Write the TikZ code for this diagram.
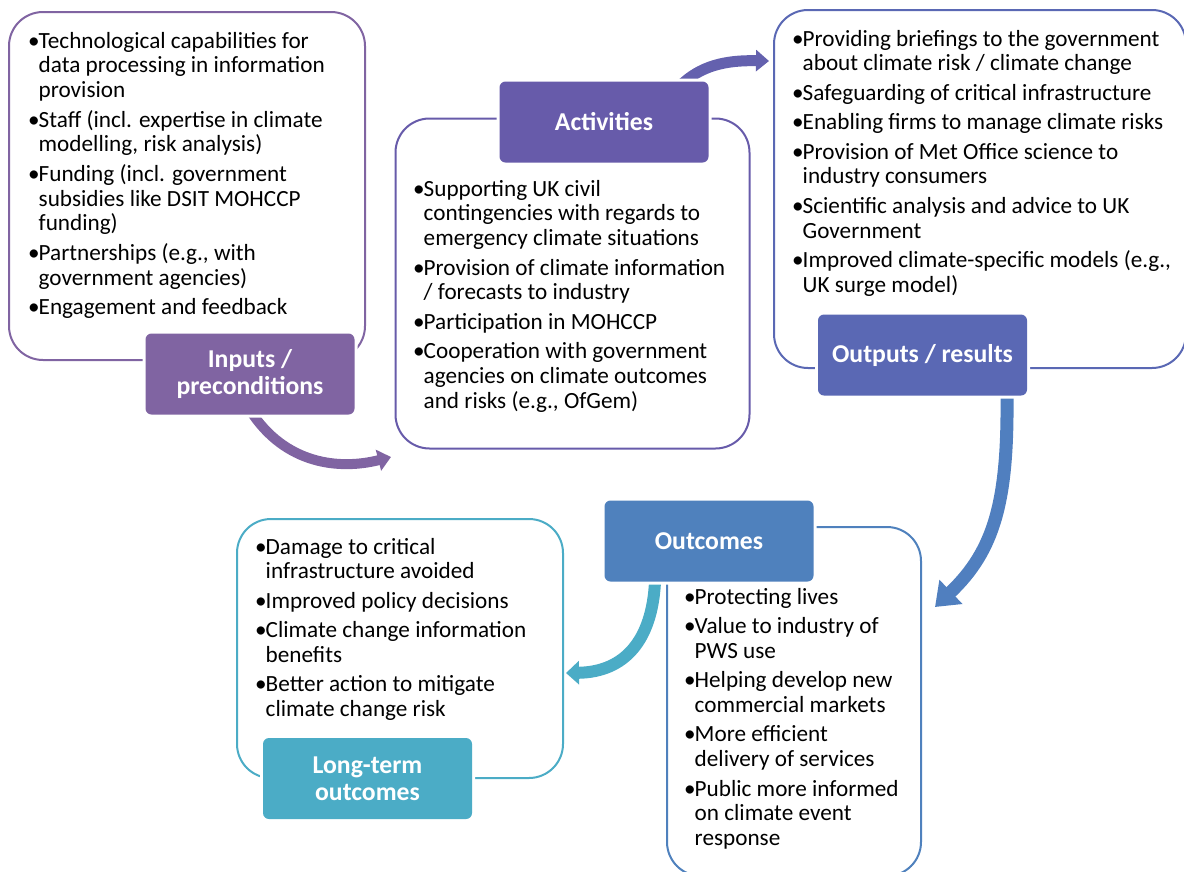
\documentclass[tikz,border=0pt]{standalone}
\usepackage{fontspec}
\setmainfont{Carlito}
\usetikzlibrary{arrows.meta}

\definecolor{cIn}{HTML}{8064A2}
\definecolor{cAct}{HTML}{675BAA}
\definecolor{cOut}{HTML}{5A68B4}
\definecolor{cOc}{HTML}{4F81BD}
\definecolor{cLt}{HTML}{4BACC6}
\definecolor{cArrAct}{HTML}{6461AE}
\definecolor{cArrOut}{HTML}{507FBF}

% bullet with hanging indent, and the indent of a continuation line
\newcommand\lbul{\strut\makebox[10.5pt][l]{•}}
\newcommand\lcont{\strut\hspace*{10.5pt}}

\tikzset{
  panel/.style={draw=#1, line width=2pt, fill=white, rounded corners=34pt, inner sep=0pt},
  head/.style={fill=#1, preaction={draw=white, line width=6pt}, rounded corners=6pt,
    minimum width=209pt, minimum height=81pt, inner sep=0pt, text=white, align=center,
    font=\fontsize{25.7}{27.5}\selectfont\bfseries},
  list/.style={anchor=north west, inner sep=0pt, align=left,
    font=\fontsize{23.2}{24.8}\selectfont},
  flow/.style={draw=#1, line width=11pt},
}

\begin{document}
\begin{tikzpicture}[x=1pt, y=-1pt]
\useasboundingbox (0,0) rectangle (1184,871);
\clip (0,0) rectangle (1184,871);

% rounded panels
\node[panel=cIn,  minimum width=356pt, minimum height=348pt] (inpanel)  at (187,186) {};
\node[panel=cAct, minimum width=354pt, minimum height=330pt] (actpanel) at (572.5,283.5) {};
\node[panel=cOut, minimum width=412pt, minimum height=358pt] (outpanel) at (980,189) {};
\node[panel=cOc,  minimum width=254pt, minimum height=349pt] (ocpanel)  at (794,701.5) {};
\node[panel=cLt,  minimum width=326pt, minimum height=259pt] (ltpanel)  at (400,648.5) {};

% curved flow arrows
\coordinate (a1s) at (250,410);  \coordinate (a1e) at (391,457);
\coordinate (a2s) at (680,86);   \coordinate (a2e) at (769,61);
\coordinate (a3s) at (1007,396); \coordinate (a3e) at (935,607);
\coordinate (a4s) at (655,582);  \coordinate (a4e) at (566,673);
\draw[flow=cIn, line width=10pt, -{Triangle[length=13pt,width=21pt]}]
  (a1s) .. controls (285,465) and (340,470) .. (a1e);
\draw[flow=cArrAct, line width=11pt, -{Triangle[length=13pt,width=21pt]}]
  (a2s) .. controls (700,66) and (725,60) .. (a2e);
\draw[flow=cArrOut, line width=13pt, -{Triangle[length=22pt,width=32pt]}]
  (a3s) .. controls (1008,500) and (995,550) .. (a3e);
\draw[flow=cLt, line width=12pt, -{Triangle[length=13pt,width=23pt]}]
  (a4s) .. controls (652,640) and (625,672) .. (a4e);

% headers
\node[head=cIn]  (inhead)  at (250,374)   {Inputs /\\preconditions};
\node[head=cAct] (acthead) at (604,122)   {Activities};
\node[head=cOut] (outhead) at (922.5,355) {Outputs / results};
\node[head=cOc]  (ochead)  at (709,541)   {Outcomes};
\node[head=cLt]  (lthead)  at (367.5,778.5) {Long-term\\outcomes};

% lists
\node[list] (inlist) at (28,30.5) {%
\lbul Technological capabilities for\\
\lcont data processing in information\\
\lcont provision\\[4.6pt]
\lbul Staff (incl. expertise in climate\\
\lcont modelling, risk analysis)\\[4.6pt]
\lbul Funding (incl. government\\
\lcont subsidies like DSIT MOHCCP\\
\lcont funding)\\[4.6pt]
\lbul Partnerships (e.g., with\\
\lcont government agencies)\\[4.6pt]
\lbul Engagement and feedback};

\node[list] (actlist) at (413,178.5) {%
\lbul Supporting UK civil\\
\lcont contingencies with regards to\\
\lcont emergency climate situations\\[4.6pt]
\lbul Provision of climate information\\
\lcont / forecasts to industry\\[4.6pt]
\lbul Participation in MOHCCP\\[4.6pt]
\lbul Cooperation with government\\
\lcont agencies on climate outcomes\\
\lcont and risks (e.g., OfGem)};

\node[list] (outlist) at (792,28.5) {%
\lbul Providing briefings to the government\\
\lcont about climate risk / climate change\\[4.6pt]
\lbul Safeguarding of critical infrastructure\\[4.6pt]
\lbul Enabling firms to manage climate risks\\[4.6pt]
\lbul Provision of Met Office science to\\
\lcont industry consumers\\[4.6pt]
\lbul Scientific analysis and advice to UK\\
\lcont Government\\[4.6pt]
\lbul Improved climate-specific models (e.g.,\\
\lcont UK surge model)};

\node[list] (oclist) at (684,586.5) {%
\lbul Protecting lives\\[4.6pt]
\lbul Value to industry of\\
\lcont PWS use\\[4.6pt]
\lbul Helping develop new\\
\lcont commercial markets\\[4.6pt]
\lbul More efficient\\
\lcont delivery of services\\[4.6pt]
\lbul Public more informed\\
\lcont on climate event\\
\lcont response};

\node[list] (ltlist) at (255,536.5) {%
\lbul Damage to critical\\
\lcont infrastructure avoided\\[4.6pt]
\lbul Improved policy decisions\\[4.6pt]
\lbul Climate change information\\
\lcont benefits\\[4.6pt]
\lbul Better action to mitigate\\
\lcont climate change risk};
\end{tikzpicture}
\end{document}
